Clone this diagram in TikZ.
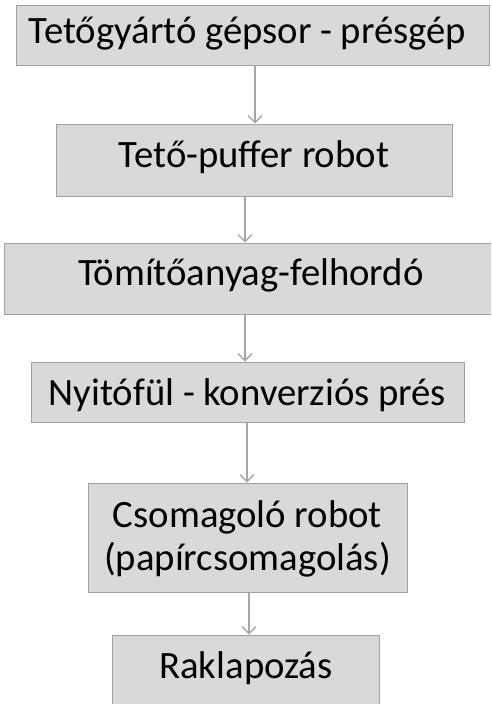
\documentclass[tikz,border=0pt]{standalone}
\usepackage{fontspec}
\setmainfont{Carlito}
\usetikzlibrary{arrows.meta}
\definecolor{boxfill}{HTML}{D9D9D9}
\definecolor{boxline}{HTML}{A0A0A0}
\definecolor{arrline}{HTML}{A6A6A6}
\tikzset{
  stepbox/.style={draw=boxline, line width=1pt, fill=boxfill, rectangle, inner sep=0pt},
  txt/.style={anchor=base, inner sep=0pt, font=\fontsize{38.7}{43}\selectfont, text=black},
  arr/.style={draw=arrline, line width=1.6pt, -{Straight Barb[length=7pt,width=14pt,line width=1.4pt]}}
}
\begin{document}
\begin{tikzpicture}[x=1pt,y=-1pt]
\useasboundingbox (0,0) rectangle (491,704);
\clip (0,0) rectangle (491,704);
\fill[white] (0,0) rectangle (491,704);
% boxes
\node[stepbox, minimum width=473pt, minimum height=60pt] (b1) at (252.5,35) {};
\node[stepbox, minimum width=396pt, minimum height=72pt] (b2) at (254,160) {};
\node[stepbox, minimum width=494pt, minimum height=71pt] (b3) at (251,278.5) {};
\node[stepbox, minimum width=433pt, minimum height=60pt] (b4) at (247.5,392) {};
\node[stepbox, minimum width=319pt, minimum height=109pt] (b5) at (247.5,537.5) {};
\node[stepbox, minimum width=267pt, minimum height=76pt] (b6) at (245.5,673) {};
% texts
\node[txt] (t1) at (247.5,43) {Tetőgyártó gépsor - présgép};
\node[txt] (t2) at (254,167) {Tető-puffer robot};
\node[txt] (t3) at (251,285) {Tömítőanyag-felhordó};
\node[txt] (t4) at (247.5,405) {Nyitófül - konverziós prés};
\node[txt] (t5a) at (247.5,527) {Csomagoló robot};
\node[txt] (t5b) at (247.5,570) {(papírcsomagolás)};
\node[txt] (t6) at (246,678) {Raklapozás};
% connectors
\draw[arr] ([xshift=2.5pt]b1.south) -- ([xshift=1pt]b2.north);
\draw[arr] ([xshift=-9pt]b2.south) -- ([xshift=-6pt]b3.north);
\draw[arr] ([xshift=-6pt]b3.south) -- ([xshift=-2.5pt]b4.north);
\draw[arr] ([xshift=-0.5pt]b4.south) -- ([xshift=-0.5pt]b5.north);
\draw[arr] ([xshift=1.5pt]b5.south) -- ([xshift=3.5pt]b6.north);
\end{tikzpicture}
\end{document}
